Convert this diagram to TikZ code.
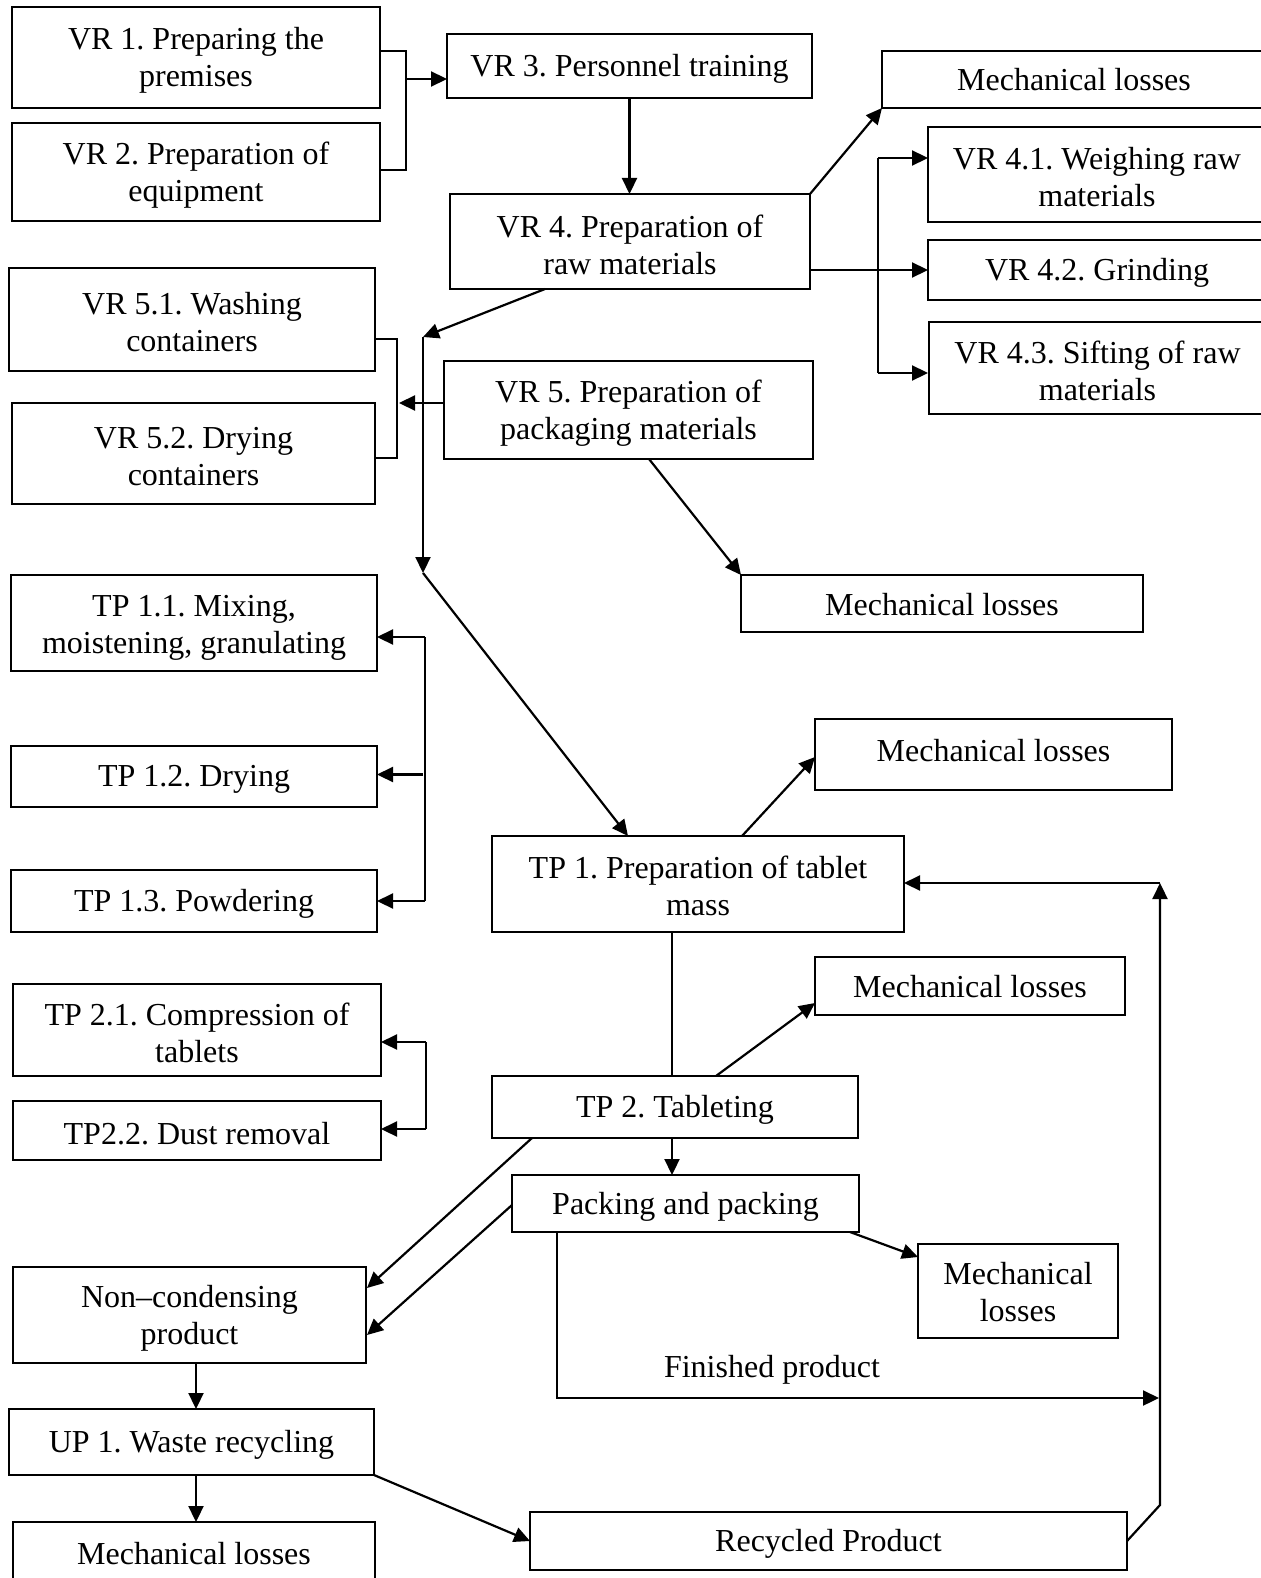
\documentclass[tikz,border=0pt]{standalone}
\usepackage{fontspec}
\setmainfont{Liberation Serif}
\usetikzlibrary{arrows.meta,calc}
\begin{document}
\frenchspacing
\begin{tikzpicture}[x=0.5pt,y=-0.5pt,
  box/.style={draw, line width=1pt, inner sep=0pt, outer sep=0pt},
  txt/.style={inner sep=0pt, align=center, font={\fontsize{16pt}{18.5pt}\selectfont}},
  arr/.style={line width=1.1pt, -{Triangle[length=8pt,width=7.5pt]}},
  ln/.style={line width=1.1pt}]
\newcommand\bx[7][0]{\node[box, minimum width={(#5-#3)*0.5pt}, minimum height={(#6-#4)*0.5pt}] (#2) at ({(#3+#5)/2},{(#4+#6)/2}) {};
  \node[txt, yshift={(#1)*0.5pt-1.5pt}] (#2t) at (#2) {#7};}
\useasboundingbox (0,0) rectangle (1261,1578);
\clip (0,0) rectangle (1261,1578);
\fill[white] (0,0) rectangle (1261,1578);
% boxes
\bx{vr1}{12}{7}{380}{108}{VR 1. Preparing the\\premises}
\bx{vr2}{12}{123}{380}{221}{VR 2. Preparation of\\equipment}
\bx{vr3}{447}{34}{812}{98}{VR 3. Personnel training}
\bx[3]{m1}{882}{51}{1266}{108}{Mechanical losses}
\bx{vr4}{450}{194}{810}{289}{VR 4. Preparation of\\raw materials}
\bx{vr41}{928}{127}{1266}{222}{VR 4.1. Weighing raw\\materials}
\bx{vr42}{928}{240}{1266}{300}{VR 4.2. Grinding}
\bx{vr43}{929}{322}{1266}{414}{VR 4.3. Sifting of raw\\materials}
\bx{vr51}{9}{268}{375}{371}{VR 5.1. Washing\\containers}
\bx{vr52}{12}{403}{375}{504}{VR 5.2. Drying\\containers}
\bx{vr5}{444}{361}{813}{459}{VR 5. Preparation of\\packaging materials}
\bx[2]{m2}{741}{575}{1143}{632}{Mechanical losses}
\bx[-2]{tp11}{11}{575}{377}{671}{TP 1.1. Mixing,\\moistening, granulating}
\bx{tp12}{11}{746}{377}{807}{TP 1.2. Drying}
\bx{tp13}{11}{870}{377}{932}{TP 1.3. Powdering}
\bx[7]{m3}{815}{719}{1172}{790}{Mechanical losses}
\bx[1]{tp1}{492}{836}{904}{932}{TP 1. Preparation of tablet\\mass}
\bx[2]{m4}{815}{957}{1125}{1015}{Mechanical losses}
\bx{tp21}{13}{984}{381}{1076}{TP 2.1. Compression of\\tablets}
\bx{tp22}{13}{1101}{381}{1160}{TP2.2. Dust removal}
\bx{tp2}{492}{1076}{858}{1138}{TP 2. Tableting}
\bx{pk}{512}{1175}{859}{1232}{Packing and packing}
\bx[2]{m5}{918}{1244}{1118}{1338}{Mechanical\\losses}
\bx{nc}{13}{1267}{366}{1363}{Non–condensing\\product}
\bx{up1}{9}{1409}{374}{1475}{UP 1. Waste recycling}
\bx[2]{m6}{13}{1522}{375}{1584}{Mechanical losses}
\bx{rec}{530}{1512}{1127}{1570}{Recycled Product}
\node[txt, yshift=-1.5pt] (fpl) at (772,1367) {Finished product};
% connectors
\draw[ln] ($(vr1.north east)+(0,44)$) -- ++(26,0) |- ($(vr2.north east)+(0,47)$);
\coordinate (b1) at (406,79);
\draw[arr] (b1) -- (b1 -| vr3.west);
\draw[arr] (vr3.south) -- (vr3.south |- vr4.north);
\draw[arr] (vr4.north east) -- (m1.south west);
\draw[arr] (vr4.east |- vr42.west) -- (vr42.west);
\coordinate (t41) at ($(vr41.north west)+(0,31)$);
\coordinate (t43) at ($(vr43.north west)+(-1,51)$);
\coordinate (v4) at (878,0);
\draw[ln] (v4 |- t41) -- (v4 |- t43);
\draw[arr] (v4 |- t41) -- (t41);
\draw[arr] (v4 |- t43) -- (t43);
\coordinate (v5) at (423,337);
\coordinate (v5b) at (423,573);
\draw[arr] ($(vr4.south west)+(95,0)$) -- (v5);
\draw[arr] (v5) -- (v5b);
\draw[arr] (v5b) -- ($(tp1.north west)+(136,0)$);
\draw[ln] ($(vr51.north east)+(0,71)$) -- ++(22,0) |- ($(vr52.north east)+(0,55)$);
\draw[arr] (vr5.west |- vr52.north) -- ($(vr52.north east)+(24,0)$);
\draw[arr] ($(vr5.south west)+(205,0)$) -- (m2.north west);
\coordinate (bt) at ($(tp11.north east)+(48,62)$);
\coordinate (bb) at ($(tp13.north east)+(48,31)$);
\draw[ln] (bt) -- (bb);
\draw[arr] (bt) -- (bt -| tp11.east);
\draw[arr] (bb) -- (bb -| tp13.east);
\draw[arr] ($(bt |- tp12.east)+(-2,-2)$) -- ($(tp12.east)+(0,-2)$);
\draw[arr] ($(tp1.north west)+(250,0)$) -- ($(m3.north west)+(0,38)$);
\draw[ln] ($(tp1.south west)+(180,0)$) -- ($(tp2.north west)+(180,0)$);
\draw[arr] ($(tp2.north west)+(224,0)$) -- ($(m4.north west)+(0,46)$);
\coordinate (ct) at ($(tp21.north east)+(45,58)$);
\coordinate (cb) at ($(tp22.north east)+(45,28)$);
\draw[ln] (ct) -- (cb);
\draw[arr] (ct) -- (ct -| tp21.east);
\draw[arr] (cb) -- (cb -| tp22.east);
\draw[arr] ($(tp2.south west)+(180,0)$) -- ($(pk.north west)+(160,0)$);
\draw[arr] ($(tp2.south west)+(40,0)$) -- ($(nc.north east)+(1,21)$);
\draw[arr] ($(pk.north west)+(0,30)$) -- ($(nc.north east)+(1,68)$);
\draw[arr] ($(pk.south east)+(-9,0)$) -- ($(m5.north west)+(0,13)$);
\coordinate (fp) at (1159,1398);
\draw[arr] ($(pk.south west)+(45,0)$) |- (fp);
\coordinate (rc) at (1160,1505);
\coordinate (rt) at (1160,883);
\draw[arr] (rec.east) -- (rc) -- (rt);
\draw[arr] (rt) -- (rt -| tp1.east);
\draw[arr] ($(nc.south west)+(183,0)$) -- ($(up1.north west)+(187,0)$);
\draw[arr] ($(up1.south west)+(187,0)$) -- ($(m6.north west)+(183,0)$);
\draw[arr] (up1.south east) -- (rec.west);
\end{tikzpicture}
\end{document}
